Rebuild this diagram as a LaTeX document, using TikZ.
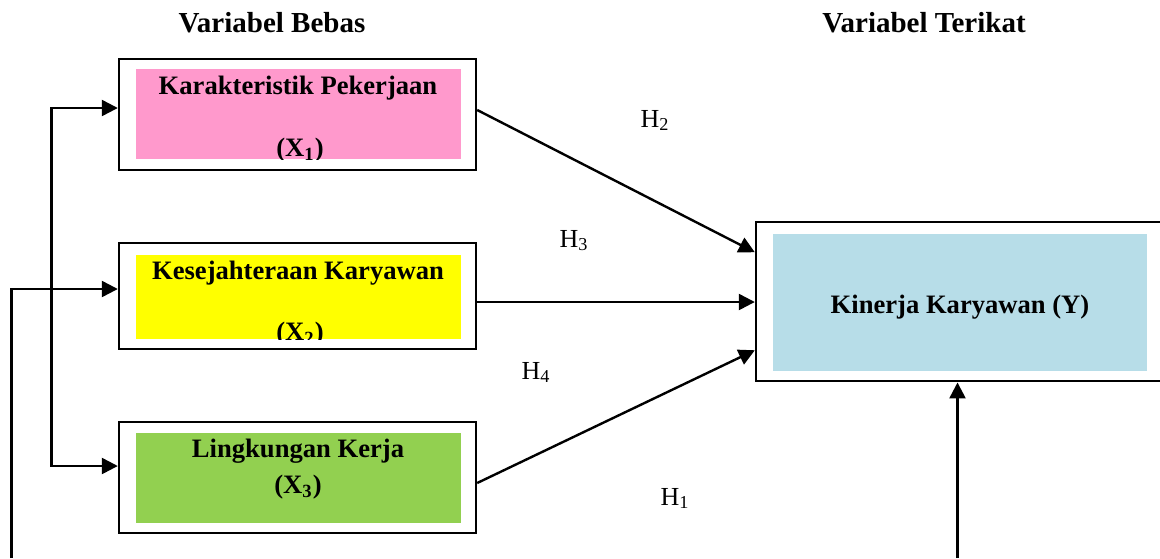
\documentclass[tikz,border=0pt]{standalone}
\usepackage{fontspec}
\setmainfont{Liberation Serif}
\usetikzlibrary{arrows.meta,positioning,calc}
\definecolor{pinkfill}{RGB}{255,153,204}
\definecolor{yellowfill}{RGB}{255,255,0}
\definecolor{greenfill}{RGB}{146,208,80}
\definecolor{bluefill}{RGB}{183,221,232}
\tikzstyle{outer}=[draw,line width=1.2pt,fill=white,rectangle,inner sep=0pt,minimum width=178.5pt,minimum height=55.5pt]
\tikzstyle{inner}=[rectangle,inner sep=0pt,minimum width=162.5pt,minimum height=45pt]
\tikzstyle{varlbl}=[anchor=base,inner sep=0pt,font=\fontsize{13.3}{16}\selectfont\bfseries]
\tikzstyle{head}=[anchor=base,inner sep=0pt,font=\fontsize{14.5}{17}\selectfont\bfseries]
\tikzstyle{hyp}=[anchor=base,inner sep=0pt,font=\fontsize{13}{16}\selectfont]
\tikzstyle{arr}=[line width=1.2pt,-{Triangle[length=8pt,width=8pt]}]

\begin{document}
\begin{tikzpicture}[x=0.5pt,y=-0.5pt]
\useasboundingbox (0,0) rectangle (1160,558);
% titles
\node[head] (tb) at (272,32) {Variabel Bebas};
\node[head] (tt) at (924,32) {Variabel Terikat};
% boxes
\node[outer] (x1) at (297.5,114.5) {};
\node[inner,fill=pinkfill] (f1) at (298.5,114) {};
\node[outer,minimum height=53pt] (x2) at (297.5,296) {};
\node[inner,fill=yellowfill,minimum height=42pt] (f2) at (298.5,297) {};
\node[outer] (x3) at (297.5,477.5) {};
\node[inner,fill=greenfill] (f3) at (298.5,478) {};
\node[outer,minimum width=204pt,minimum height=79.5pt] (y) at (960,301.75) {};
\node[inner,fill=bluefill,minimum width=187pt,minimum height=68.5pt] (fy) at (960,302.5) {};
% box texts
\begin{scope}
\clip (f1.south west) rectangle (f1.north east);
\node[varlbl] (t1a) at (298,94) {Karakteristik Pekerjaan};
\node[varlbl] (t1b) at (300,156) {(X\textsubscript{1})};
\end{scope}
\begin{scope}
\clip (f2.south west) rectangle (f2.north east);
\node[varlbl] (t2a) at (298,279) {Kesejahteraan Karyawan};
\node[varlbl] (t2b) at (300,340) {(X\textsubscript{2})};
\end{scope}
\node[varlbl] (t3a) at (298,457.5) {Lingkungan Kerja};
\node[varlbl] (t3b) at (298,493) {(X\textsubscript{3})};
\node[varlbl] (ty) at (960,313) {Kinerja Karyawan (Y)};
% left connectors
\coordinate (lk) at (51.5,466);
\draw[line width=1.2pt,{Triangle[length=8pt,width=8pt]}-{Triangle[length=8pt,width=8pt]}] ([yshift=3.25pt]x1.west) -| (lk) -- ([yshift=5.75pt]x3.west);
\coordinate (b1) at (11.5,558);
\draw[arr] (b1) |- ([yshift=3.5pt]x2.west);
\coordinate (b2) at (957.5,558);
\draw[arr] (b2) -- (b2 |- y.south);
% hypotheses
\draw[arr] ([yshift=2.25pt]x1.east) -- ([yshift=24.75pt]y.west);
\draw[arr] ([yshift=-3pt]x2.east) -- ([yshift=-3pt]x2.east -| y.west);
\draw[arr] ([yshift=-2.75pt]x3.east) -- ([yshift=-24.25pt]y.west);
\node[hyp] (h2) at (655,127) {H\textsubscript{2}};
\node[hyp] (h3) at (574,247) {H\textsubscript{3}};
\node[hyp] (h4) at (536,379) {H\textsubscript{4}};
\node[hyp] (h1) at (675,505) {H\textsubscript{1}};
\end{tikzpicture}
\end{document}
